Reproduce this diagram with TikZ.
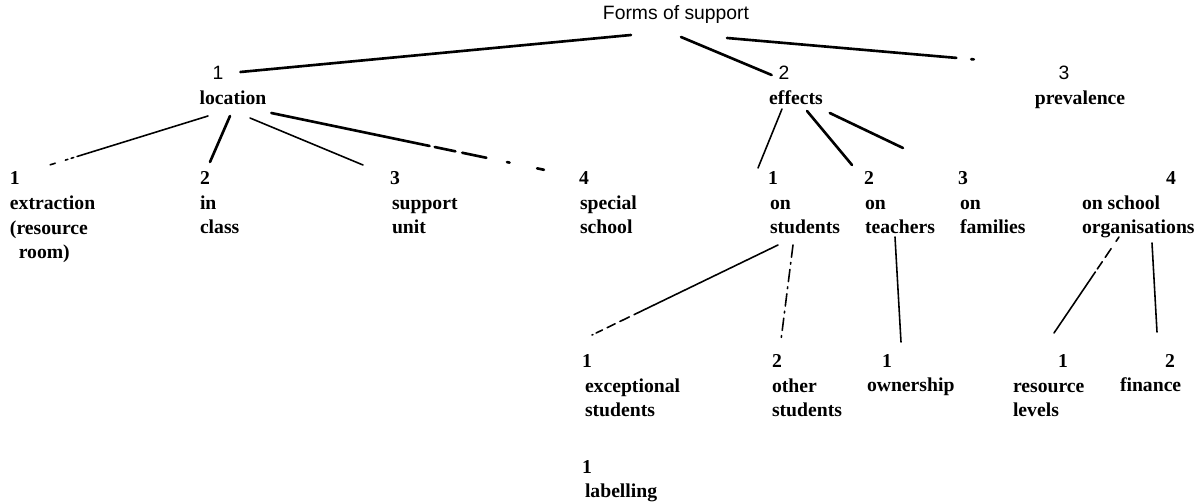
\documentclass[tikz,border=0pt]{standalone}
\usepackage{fontspec}
\setmainfont{Liberation Serif}
\setsansfont{Liberation Sans}
\usetikzlibrary{calc}
\tikzset{
  x=0.02cm, y=-0.02cm, % one unit is one pixel of the scan
  every node/.style={inner sep=0pt, outer sep=0pt},
  head/.style={font=\sffamily\fontsize{11}{13}\selectfont, anchor=base}, % title and top numbers
  word/.style={font=\bfseries\fontsize{11.2}{14}\selectfont, anchor=base west,
    align=left}, % the labels, placed at the baseline of their last line
  branch/.style={line width=0.9pt, line cap=round},
  heavy/.style={line width=1.5pt, line cap=round},
}

\begin{document}
\begin{tikzpicture}
  \useasboundingbox (0,0) rectangle (1201,503);

  % top
  \node[head] (forms) at (676,20) {Forms of support};

  \node[head] (n-loc) at (218,80) {1};
  \node[word, anchor=base] (loc) at (233,105) {location};
  \node[head] (n-eff) at (784,80) {2};
  \node[word, anchor=base] (eff) at (796,105) {effects};
  \node[head] (n-prev) at (1064,80) {3};
  \node[word, anchor=base] (prev) at (1080,105) {prevalence};

  % second level
  \node[word] (n-ext) at (10,185) {1};
  \node[word] (ext) at (10,259) {extraction\\(resource\\\hspace*{5pt}room)};
  \node[word] (n-in) at (200,185) {2};
  \node[word] (incl) at (200,234) {in\\class};
  \node[word] (n-unit) at (390,185) {3};
  \node[word] (unit) at (392,234) {support\\unit};
  \node[word] (n-spec) at (579,185) {4};
  \node[word] (spec) at (580,234) {special\\school};
  \node[word] (n-stu) at (768,185) {1};
  \node[word] (stu) at (770,234) {on\\students};
  \node[word] (n-tea) at (864,185) {2};
  \node[word] (tea) at (865,234) {on\\teachers};
  \node[word] (n-fam) at (958,185) {3};
  \node[word] (fam) at (960,234) {on\\families};
  \node[word] (n-org) at (1166,185) {4};
  \node[word] (org) at (1082,234) {on school\\organisations};

  % third level
  \node[word] (n-exc) at (582,368) {1};
  \node[word] (exc) at (585,417) {exceptional\\students};
  \node[word] (n-lab) at (582,473) {1};
  \node[word] (lab) at (585,497) {labelling};
  \node[word] (n-oth) at (772,368) {2};
  \node[word] (oth) at (772,417) {other\\students};
  \node[word] (n-own) at (882,368) {1};
  \node[word] (own) at (867,392) {ownership};
  \node[word] (n-res) at (1058,368) {1};
  \node[word] (res) at (1013,417) {resource\\levels};
  \node[word] (n-fin) at (1165,368) {2};
  \node[word] (fin) at (1120,392) {finance};

  \draw[heavy] ($(forms.base west)+(28,15)$) -- ($(n-loc.base east)+(17,-8)$);
  \draw[heavy] ($(forms.base)+(5,17)$) -- ($(n-eff.base west)+(-7,-5)$);
  \draw[heavy, dash pattern=on 131pt off 8.5pt on 1.5pt off 5pt]
    ($(forms.base east)+(-22,18)$) -- ($(n-prev.base west)+(-78,-20)$);

  \draw[branch, dash pattern=on 78pt off 2pt on 1.5pt off 2pt on 1.5pt off 6pt on 3pt off 8pt]
    ($(loc.base)+(-25,11)$) -- ($(n-ext.base east)+(20,-17)$);
  \draw[heavy] ($(loc.base)+(-3,11)$) -- ($(n-in.base west)+(10,-23)$);
  \draw[branch] ($(loc.base)+(17,13)$) -- ($(n-unit.base west)+(-27,-20)$);
  \draw[heavy, dash pattern=on 92pt off 3pt on 12pt off 4pt on 14pt off 12pt on 1.5pt off 16pt on 4pt off 4pt]
    ($(loc.base east)+(5,8)$) -- ($(n-spec.base west)+(-34,-15)$);

  \draw[branch] ($(eff.base)+(-14,4)$) -- ($(n-stu.base west)+(-10,-17)$);
  \draw[heavy] ($(eff.base)+(11,6)$) -- ($(n-tea.base west)+(-12,-20)$);
  \draw[heavy] ($(eff.base east)+(7,8)$) -- ($(n-fam.base west)+(-55,-37)$);

  \draw[branch, dash pattern=on 91pt off 3pt on 6pt off 3pt on 5pt off 3pt on 4pt off 2pt]
    ($(stu.base west)+(8,11)$) -- ($(n-exc.base west)+(10,-33)$);
  \draw[branch, dash pattern=on 7pt off 3pt on 1pt off 3pt]
    ($(stu.base west)+(23,11)$) -- ($(n-oth.base west)+(9,-28)$);
  \draw[branch] ($(tea.base west)+(30,3)$) -- ($(n-own.base west)+(19,-26)$);
  \draw[branch, dash pattern=on 3pt off 5pt on 6pt off 3pt on 5pt off 2pt on 42pt]
    ($(org.base west)+(37,3)$) -- ($(n-res.base west)+(-4,-35)$);
  \draw[branch] ($(org.base west)+(70,9)$) -- ($(n-fin.base west)+(-8,-36)$);
\end{tikzpicture}
\end{document}
